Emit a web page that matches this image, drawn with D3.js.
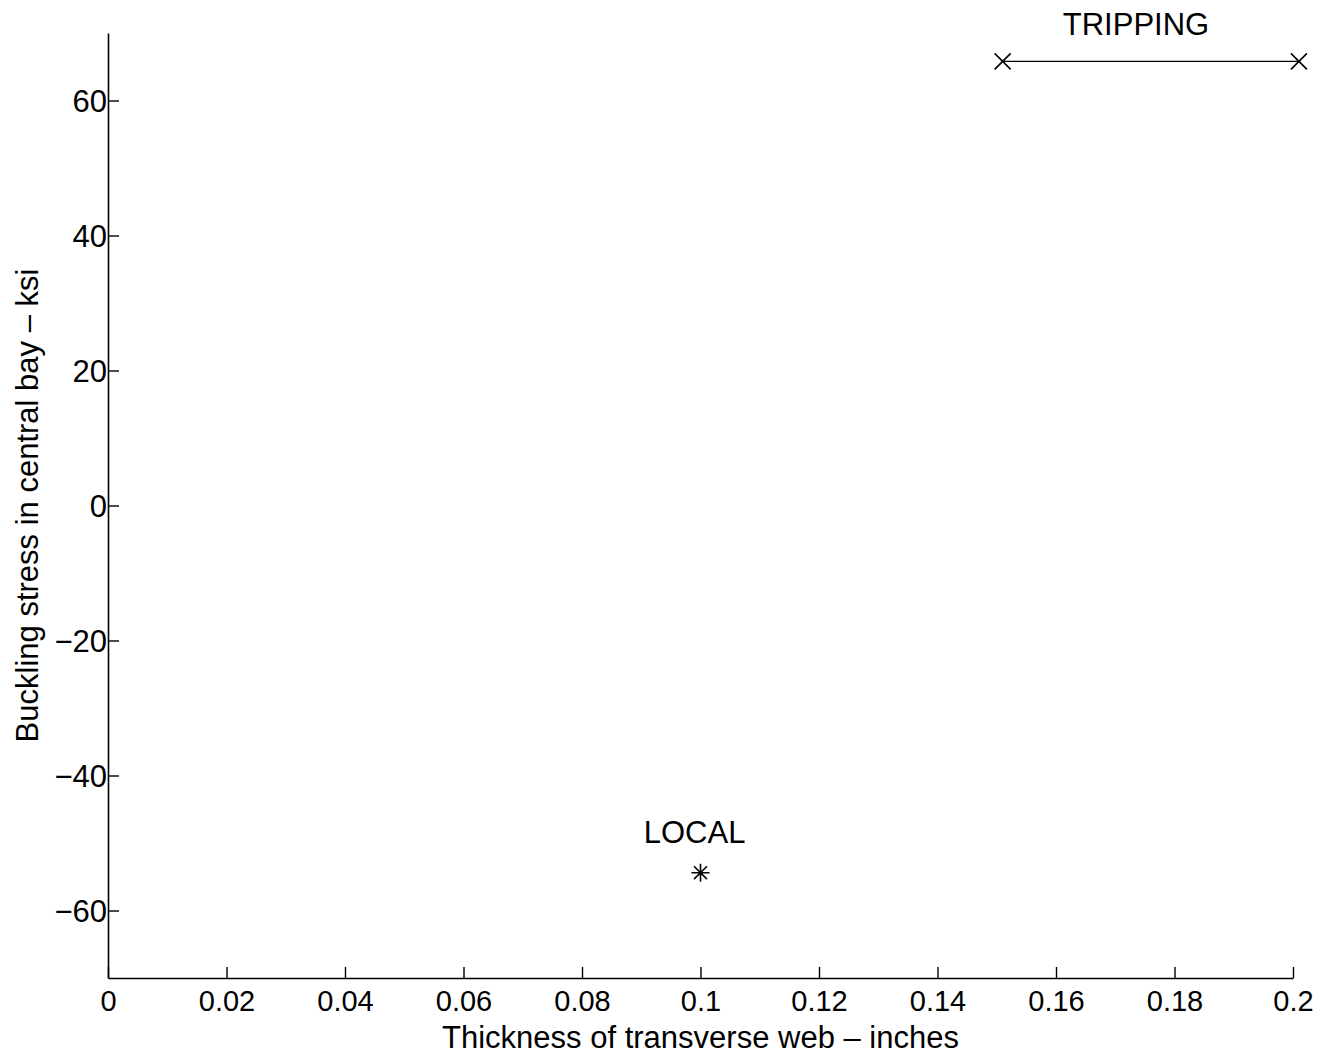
<!DOCTYPE html>
<html>
<head>
<meta charset="utf-8">
<script src="https://cdn.jsdelivr.net/npm/d3@7"></script>
<style>
  html, body { margin: 0; padding: 0; background: #fff; }
  svg { display: block; font-family: "Liberation Sans", Arial, Helvetica, sans-serif; }
</style>
</head>
<body>
<svg id="chart" width="1327" height="1059"></svg>
<script>
// Buckling modes: tripping range and local buckling point
const xTicks = [0, 0.02, 0.04, 0.06, 0.08, 0.1, 0.12, 0.14, 0.16, 0.18, 0.2];
const yTicks = [-60, -40, -20, 0, 20, 40, 60];
const trippingX = [0.151, 0.201];
const trippingY = [65.8, 65.8];
const localX = [0.1];
const localY = [-54.4];
const labels = [
  { text: "TRIPPING", x: 0.1735, y: 69.7 },
  { text: "LOCAL", x: 0.099, y: -50 }
];

const svg = d3.select("#chart");
const margin = { left: 108, right: 34, top: 33, bottom: 81 };
const W = 1327, H = 1059;
const FS = 31;

const x = d3.scaleLinear().domain([0, 0.2]).range([margin.left, W - margin.right]);
const y = d3.scaleLinear().domain([-70, 70]).range([H - margin.bottom, margin.top]);

const fmt = d => d === 0 ? "0" : d3.format("~g")(d).replace("-", "\u2212");

// Bottom axis, ticks pointing inward
const gx = svg.append("g")
  .attr("transform", `translate(0,${y(-70)})`)
  .call(d3.axisBottom(x).tickValues(xTicks).tickSize(-11).tickSizeOuter(0).tickPadding(12)
    .tickFormat(fmt));

// Left axis, ticks pointing inward
const gy = svg.append("g")
  .attr("transform", `translate(${x(0)},0)`)
  .call(d3.axisLeft(y).tickValues(yTicks).tickSize(-11).tickSizeOuter(0).tickPadding(1)
    .tickFormat(fmt));

[gx, gy].forEach(g => {
  g.select(".domain").attr("stroke", "#000").attr("stroke-width", 1.6);
  g.selectAll(".tick line").attr("stroke", "#000").attr("stroke-width", 1.4);
  g.selectAll(".tick text").attr("fill", "#000").attr("font-size", FS);
});
gx.selectAll(".tick text").attr("font-size", 29).attr("dy", "0.71em");
gy.selectAll(".tick text").attr("dy", "0.35em");

// Axis titles
svg.append("text")
  .attr("x", (x(0) + x(0.2)) / 2)
  .attr("y", 1048)
  .attr("text-anchor", "middle")
  .attr("font-size", 31)
  .text("Thickness of transverse web \u2013 inches");

svg.append("text")
  .attr("transform", `translate(38,${(y(-70) + y(70)) / 2}) rotate(-90)`)
  .attr("text-anchor", "middle")
  .attr("font-size", FS)
  .text("Buckling stress in central bay \u2013 ksi");

// Tripping range line with x-marks
const tripPts = trippingX.map((v, i) => [v, trippingY[i]]);
svg.append("path")
  .attr("d", d3.line().x(d => x(d[0])).y(d => y(d[1]))(tripPts))
  .attr("fill", "none")
  .attr("stroke", "#000")
  .attr("stroke-width", 1.4);

svg.selectAll(".trip-mark")
  .data(tripPts)
  .join("path")
  .attr("class", "trip-mark")
  .attr("transform", d => `translate(${x(d[0])},${y(d[1])})`)
  .attr("d", d3.symbol().type({
    draw(ctx, size) {
      const r = Math.sqrt(size) / 2;
      ctx.moveTo(-r, -r); ctx.lineTo(r, r);
      ctx.moveTo(-r, r); ctx.lineTo(r, -r);
    }
  }).size(256))
  .attr("fill", "none")
  .attr("stroke", "#000")
  .attr("stroke-width", 1.6);

// Local buckling point (asterisk: plus combined with cross)
const localPts = localX.map((v, i) => [v, localY[i]]);
svg.selectAll(".local-mark")
  .data(localPts)
  .join("path")
  .attr("class", "local-mark")
  .attr("transform", d => `translate(${x(d[0])},${y(d[1])})`)
  .attr("d", d3.symbol().type({
    draw(ctx, size) {
      const r = Math.sqrt(size) / 2;
      const a = r * 0.72;
      ctx.moveTo(0, -r); ctx.lineTo(0, r);
      ctx.moveTo(-r, 0); ctx.lineTo(r, 0);
      ctx.moveTo(-a, -a); ctx.lineTo(a, a);
      ctx.moveTo(-a, a); ctx.lineTo(a, -a);
    }
  }).size(324))
  .attr("fill", "none")
  .attr("stroke", "#000")
  .attr("stroke-width", 1.6);

// Text annotations
svg.selectAll(".note")
  .data(labels)
  .join("text")
  .attr("class", "note")
  .attr("x", d => x(d.x))
  .attr("y", d => y(d.y))
  .attr("text-anchor", "middle")
  .attr("font-size", FS)
  .text(d => d.text);
</script>
</body>
</html>
